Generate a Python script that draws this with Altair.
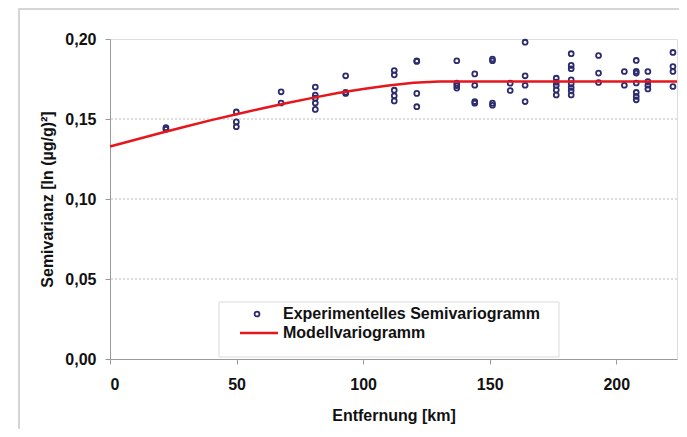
import altair as alt
import pandas as pd

# ---- data ----
dist = ([22.1] * 2 + [49.9] * 3 + [67.6] * 2 + [81.1] * 5 + [93.1] * 3 +
        [112.3] * 5 + [121.2] * 4 + [137.0] * 4 + [144.1] * 4 + [151.1] * 4 +
        [158.1] * 2 + [164.0] * 4 + [176.3] * 5 + [182.2] * 8 + [193.0] * 3 +
        [203.2] * 2 + [207.9] * 7 + [212.5] * 4 + [222.4] * 4)
semivar = [0.1446, 0.1436,
           0.1544, 0.1482, 0.1452,
           0.1670, 0.1600,
           0.1700, 0.1650, 0.1630, 0.1600, 0.1560,
           0.1770, 0.1667, 0.1660,
           0.1803, 0.1776, 0.1680, 0.1645, 0.1613,
           0.1864, 0.1860, 0.1660, 0.1577,
           0.1864, 0.1724, 0.1709, 0.1693,
           0.1782, 0.1711, 0.1609, 0.1599,
           0.1875, 0.1864, 0.1599, 0.1586,
           0.1724, 0.1678,
           0.1980, 0.1770, 0.1711, 0.1609,
           0.1755, 0.1730, 0.1710, 0.1682, 0.1650,
           0.1908, 0.1835, 0.1814, 0.1745, 0.1720, 0.1697, 0.1676, 0.1650,
           0.1897, 0.1787, 0.1728,
           0.1797, 0.1711,
           0.1866, 0.1798, 0.1787, 0.1725, 0.1666, 0.1641, 0.1620,
           0.1797, 0.1734, 0.1711, 0.1688,
           0.1916, 0.1828, 0.1797, 0.1703]

model_dist = [0, 10, 20, 30, 40, 50, 60, 70, 80, 90, 100, 110, 120, 130, 224]
model_gamma = [0.1328, 0.1370, 0.1412, 0.1453, 0.1493, 0.1530, 0.1566, 0.1600,
               0.1632, 0.1662, 0.1688, 0.1710, 0.1726, 0.1735, 0.1735]

grid_values = [0.05, 0.10, 0.15]
x_ticks = [0, 50, 100, 150, 200]
y_ticks = [0.0, 0.05, 0.10, 0.15, 0.20]
legend_labels = ["Experimentelles Semivariogramm", "Modellvariogramm"]

FONT = "Liberation Sans"
NAVY = "#2b2b6e"
RED = "#e5161c"

pts = pd.DataFrame({"d": dist, "g": semivar})
model = pd.DataFrame({"d": model_dist, "g": model_gamma})
grid = pd.DataFrame({"g": grid_values})
one = pd.DataFrame({"a": [0]})

xscale = alt.Scale(domain=[0, 224], nice=False, zero=False)
yscale = alt.Scale(domain=[0, 0.2], nice=False)

xaxis = alt.Axis(values=x_ticks, grid=False, domainColor="#9a9a9a", tickColor="#9a9a9a",
                 tickSize=5, labelFont=FONT, labelFontSize=16, labelFontWeight="bold",
                 labelColor="#111", labelPadding=12, title="Entfernung [km]",
                 titleFont=FONT, titleFontSize=16, titleFontWeight="bold", titleColor="#111",
                 titleY=56, titleBaseline="middle")
yaxis = alt.Axis(values=y_ticks, grid=False, domainColor="#9a9a9a", tickColor="#9a9a9a",
                 tickSize=5, labelFont=FONT, labelFontSize=16, labelFontWeight="bold",
                 labelColor="#111", labelPadding=9,
                 labelExpr="replace(format(datum.value, '.2f'), '.', ',')",
                 title="Semivarianz [ln (µg/g)²]", titleFont=FONT, titleFontSize=16,
                 titleFontWeight="bold", titleColor="#111", titleX=-63, titleY=160,
                 titleAngle=270, titleAlign="center", titleBaseline="middle")

frame = alt.Chart(one).mark_rect(fillOpacity=0, stroke="#c8c8c8", strokeWidth=1.5).encode(
    x=alt.value(-91), x2=alt.value(590), y=alt.value(-30), y2=alt.value(420))

gridlines = alt.Chart(grid).mark_rule(color="#bdbdbd", strokeWidth=1, strokeDash=[2, 2]).encode(
    y=alt.Y("g:Q", scale=yscale, axis=yaxis))

points = alt.Chart(pts).mark_point(shape="circle", filled=False, color=NAVY, size=24,
                                   strokeWidth=1.8, opacity=1).encode(
    x=alt.X("d:Q", scale=xscale, axis=xaxis),
    y=alt.Y("g:Q", scale=yscale, axis=yaxis))

line = alt.Chart(model).mark_line(color=RED, strokeWidth=2.5).encode(
    x=alt.X("d:Q", scale=xscale, axis=xaxis),
    y=alt.Y("g:Q", scale=yscale, axis=yaxis))

leg_box = alt.Chart(one).mark_rect(fill="white", stroke="#dadada", strokeWidth=1).encode(
    x=alt.value(109), x2=alt.value(449), y=alt.value(263), y2=alt.value(318))
leg_pt = alt.Chart(one).mark_point(shape="circle", filled=False, color=NAVY, size=24,
                                   strokeWidth=1.8, opacity=1).encode(
    x=alt.value(147), y=alt.value(275))
leg_line = alt.Chart(one).mark_rule(color=RED, strokeWidth=2.5).encode(
    x=alt.value(130), x2=alt.value(168), y=alt.value(294))
leg_text = alt.Chart(pd.DataFrame({"label": legend_labels, "yy": [275, 294]})).mark_text(
    align="left", baseline="middle", font=FONT, fontSize=16, fontWeight="bold",
    color="#111").encode(x=alt.value(173), y=alt.Y("yy:Q", scale=None), text="label:N")

chart = alt.layer(frame, gridlines, points, line, leg_box, leg_pt, leg_line, leg_text).properties(
    width=567, height=320,
    autosize=alt.AutoSizeParams(type="none"),
    padding={"left": 102, "top": 31, "right": 2, "bottom": 70},
).configure_view(stroke=None).configure(background="white")

chart.save("out.html", embed_options={"renderer": "svg", "actions": False})
